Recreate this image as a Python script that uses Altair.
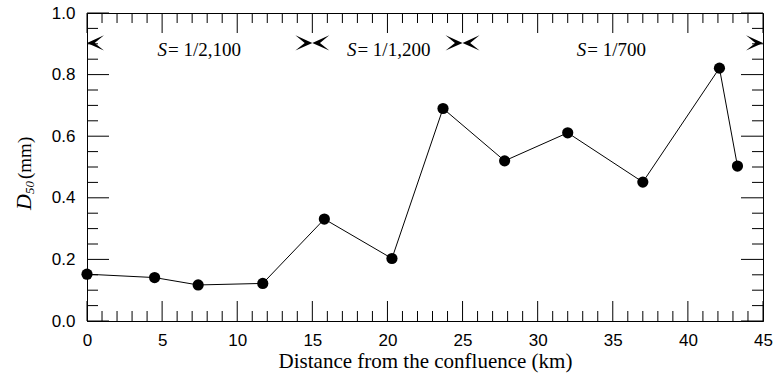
import altair as alt
import pandas as pd

# Median grain size along the river
distance_km = [0, 4.5, 7.4, 11.7, 15.8, 20.3, 23.7, 27.8, 32.0, 37.0, 42.1, 43.3]
d50_mm = [0.152, 0.141, 0.117, 0.122, 0.331, 0.203, 0.69, 0.52, 0.611, 0.451, 0.821, 0.503]

# Reach boundaries and slope labels
reach_bounds = [0, 15, 25, 45]
slope_text = ["= 1/2,100", "= 1/1,200", "= 1/700"]
slope_text_x = [5.4, 18.0, 33.3]
marker_level = 0.903
label_level = 0.88

# Tick positions
x_major = list(range(0, 46, 5))
x_minor = [v for v in range(0, 46) if v % 5 != 0]
y_major = [0.0, 0.2, 0.4, 0.6, 0.8, 1.0]
y_minor = [round(0.05 * i, 2) for i in range(21) if i % 4 != 0]

W, H = 676, 308
SANS = "Liberation Sans"
SERIF = "Liberation Serif"

x_scale = alt.Scale(domain=[0, 45], nice=False, zero=False)
y_scale = alt.Scale(domain=[0, 1.0], nice=False)

pts = pd.DataFrame({"x": distance_km, "y": d50_mm})

x_enc = alt.X(
    "x:Q", scale=x_scale,
    axis=alt.Axis(values=x_major, title="Distance from the confluence (km)", tickSize=0,
                  labelFont=SANS, labelFontSize=17, labelColor="black", labelPadding=11,
                  titleFont=SERIF, titleFontSize=21, titleFontWeight="normal", titleColor="black",
                  titlePadding=2, domainColor="black", grid=False, labelFlush=False),
)
y_enc = alt.Y(
    "y:Q", scale=y_scale,
    axis=alt.Axis(values=y_major, format=".1f", title=None, tickSize=0,
                  labelFont=SANS, labelFontSize=17, labelColor="black", labelPadding=12,
                  domainColor="black", grid=False, labelFlush=False),
)

line = alt.Chart(pts).mark_line(color="black", strokeWidth=1).encode(x=x_enc, y=y_enc)
dots = alt.Chart(pts).mark_point(filled=True, color="black", size=125, opacity=1).encode(
    x="x:Q", y="y:Q")

# Inward ticks on all four sides
def xticks(vals, length):
    df = pd.DataFrame({"x": vals})
    bottom = alt.Chart(df).mark_rule(color="black", strokeWidth=1).encode(
        x="x:Q", y=alt.value(H), y2=alt.value(H - length))
    top = alt.Chart(df).mark_rule(color="black", strokeWidth=1).encode(
        x="x:Q", y=alt.value(0), y2=alt.value(length))
    return [bottom, top]

def yticks(vals, length):
    df = pd.DataFrame({"y": vals})
    left = alt.Chart(df).mark_rule(color="black", strokeWidth=1).encode(
        y="y:Q", x=alt.value(0), x2=alt.value(length))
    right = alt.Chart(df).mark_rule(color="black", strokeWidth=1).encode(
        y="y:Q", x=alt.value(W), x2=alt.value(W - length))
    return [left, right]

ticks = xticks(x_major, 20) + xticks(x_minor, 10) + yticks(y_major, 22) + yticks(y_minor, 11)

# Reach boundary arrowheads (barbed, tip at the boundary)
HEAD_R = "M0,0 L-1,-0.45 L-0.45,0 L-1,0.45 Z"
HEAD_L = "M0,0 L1,-0.45 L0.45,0 L1,0.45 Z"
right_heads = pd.DataFrame({"x": reach_bounds[1:], "y": [marker_level] * 3})
left_heads = pd.DataFrame({"x": reach_bounds[:-1], "y": [marker_level] * 3})
heads_r = alt.Chart(right_heads).mark_point(
    shape=HEAD_R, filled=True, color="black", size=1150, opacity=1).encode(x="x:Q", y="y:Q")
heads_l = alt.Chart(left_heads).mark_point(
    shape=HEAD_L, filled=True, color="black", size=1150, opacity=1).encode(x="x:Q", y="y:Q")

# Slope labels: italic S followed by the ratio
labels = pd.DataFrame({"x": slope_text_x, "y": [label_level] * 3, "t": slope_text})
s_glyph = alt.Chart(labels).mark_text(
    text="S", font=SERIF, fontStyle="italic", fontSize=19, align="right", baseline="middle",
    dx=-1, color="black").encode(x="x:Q", y="y:Q")
s_ratio = alt.Chart(labels).mark_text(
    font=SERIF, fontSize=19, align="left", baseline="middle", color="black").encode(
    x="x:Q", y="y:Q", text="t:N")

# Y-axis title D50 (mm), rotated
yt_d = alt.Chart(pd.DataFrame({"t": ["D"]})).mark_text(
    font=SERIF, fontStyle="italic", fontSize=22, angle=270, align="left", baseline="alphabetic",
    color="black").encode(x=alt.value(-56), y=alt.value(197), text="t:N")
yt_sub = alt.Chart(pd.DataFrame({"t": ["50"]})).mark_text(
    font=SERIF, fontStyle="italic", fontSize=13, angle=270, align="left", baseline="alphabetic",
    color="black").encode(x=alt.value(-53), y=alt.value(181), text="t:N")
yt_unit = alt.Chart(pd.DataFrame({"t": ["(mm)"]})).mark_text(
    font=SERIF, fontSize=19, angle=270, align="left", baseline="alphabetic",
    color="black").encode(x=alt.value(-56), y=alt.value(166), text="t:N")

chart = alt.layer(
    line, dots, *ticks, heads_r, heads_l, s_glyph, s_ratio, yt_d, yt_sub, yt_unit
).properties(
    width=W, height=H,
    autosize=alt.AutoSizeParams(type="none"),
    padding={"left": 87, "top": 13, "right": 14, "bottom": 57},
    background="white",
).configure_view(stroke="black", strokeWidth=1)

chart.save("out.html", embed_options={"renderer": "svg", "actions": False})
